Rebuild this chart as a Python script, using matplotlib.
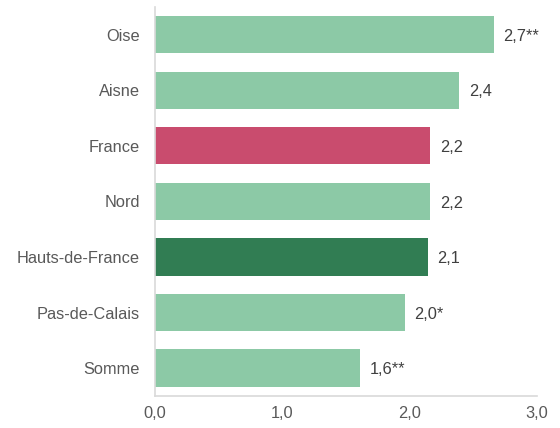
import matplotlib.pyplot as plt

plt.rcParams['font.family'] = ['Liberation Sans', 'DejaVu Sans']

# data
zones = ['Oise', 'Aisne', 'France', 'Nord', 'Hauts-de-France', 'Pas-de-Calais', 'Somme']
rates = [2.66, 2.39, 2.16, 2.16, 2.14, 1.96, 1.61]
signif = ['**', '', '', '', '', '*', '**']
colors = ['#8cc9a6', '#8cc9a6', '#c94c6e', '#8cc9a6', '#317d53', '#8cc9a6', '#8cc9a6']
xticks = [0.0, 1.0, 2.0, 3.0]

fig = plt.figure(figsize=(5.6, 4.28), dpi=100)
ax = fig.add_axes([0.277, 0.075, 0.682, 0.909])

pos = range(len(zones))
ax.barh(pos, rates, height=0.67, color=colors, edgecolor='none')

for y, v, s in zip(pos, rates, signif):
    ax.text(v + 0.075, y + 0.03, f'{v:.1f}'.replace('.', ',') + s, va='center', ha='left',
            fontsize=11.8, color='#404040')

ax.set_ylim(6.5, -0.5)
ax.set_xlim(0, 3.0)
ax.set_yticks(list(pos))
ax.set_yticklabels(zones, fontsize=11.8, color='#595959')
ax.set_xticks(xticks)
ax.set_xticklabels([f'{t:.1f}'.replace('.', ',') for t in xticks], fontsize=11.8, color='#595959')
ax.tick_params(axis='y', length=0, pad=11)
ax.tick_params(axis='x', length=0, pad=7)

for side in ['top', 'right']:
    ax.spines[side].set_visible(False)
for side in ['left', 'bottom']:
    ax.spines[side].set_color('#d9d9d9')
    ax.spines[side].set_linewidth(1.2)

fig.savefig('out.png', dpi=100)
